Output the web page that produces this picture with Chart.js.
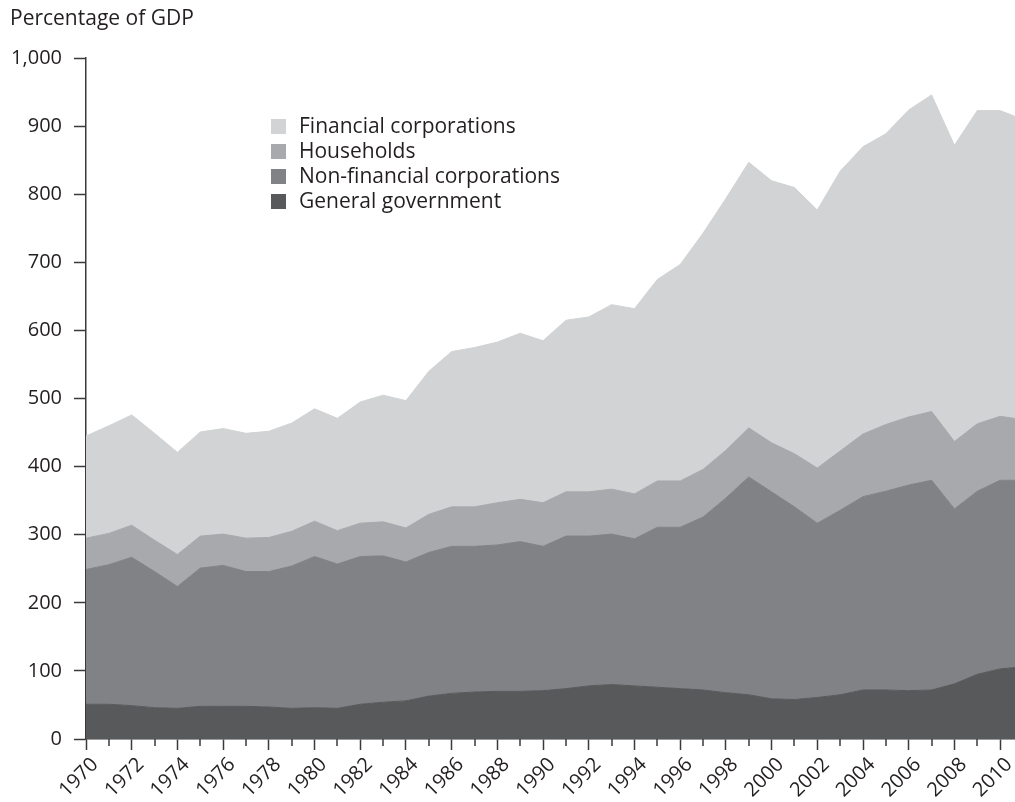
<!DOCTYPE html>
<html>
<head>
<meta charset="utf-8">
<script src="https://cdn.jsdelivr.net/npm/chart.js@4.4.1/dist/chart.umd.min.js"></script>
<style>
    html, body { margin: 0; padding: 0; background: #fff; }
    #wrap { position: relative; width: 1015px; height: 802px; }
    #legend { position: absolute; left: 271px; top: 113px; font-family: "Open Sans", sans-serif; font-size: 21px; color: #231f20; }
    #legend div { height: 25px; line-height: 25px; white-space: nowrap; }
    #legend span { display: inline-block; width: 15px; height: 15px; margin-right: 13px; vertical-align: -1px; }
</style>
</head>
<body>
<div id="wrap">
    <canvas id="debtChart" width="1015" height="802"></canvas>
    <div id="legend"></div>
</div>
<script>
// Dados (percentagem do PIB, por sector)
const years = [1970, 1971, 1972, 1973, 1974, 1975, 1976, 1977, 1978, 1979,
    1980, 1981, 1982, 1983, 1984, 1985, 1986, 1987, 1988, 1989,
    1990, 1991, 1992, 1993, 1994, 1995, 1996, 1997, 1998, 1999,
    2000, 2001, 2002, 2003, 2004, 2005, 2006, 2007, 2008, 2009,
    2010, 2011];
const generalGovernment = [51, 51, 49, 46, 45, 48, 48, 48, 47, 45,
    46, 45, 51, 54, 56, 63, 67, 69, 70, 70,
    71, 74, 78, 80, 78, 76, 74, 72, 68, 65,
    59, 58, 61, 65, 72, 72, 71, 72, 81, 95,
    103, 106];
const nonFinancialCorporations = [198, 205, 218, 200, 179, 203, 207, 198, 199, 209,
    222, 212, 217, 215, 204, 211, 216, 214, 215, 220,
    212, 224, 220, 221, 216, 235, 237, 254, 286, 320,
    304, 283, 256, 271, 284, 292, 302, 308, 257, 269,
    277, 274];
const households = [46, 46, 47, 46, 47, 47, 46, 49, 50, 51,
    52, 49, 49, 50, 50, 56, 58, 58, 62, 62,
    64, 65, 65, 66, 66, 68, 68, 70, 70, 72,
    72, 78, 81, 87, 92, 98, 100, 101, 99, 99,
    94, 89];
const financialCorporations = [150, 158, 162, 157, 150, 153, 155, 154, 156, 159,
    165, 165, 178, 186, 187, 210, 228, 234, 236, 244,
    238, 252, 257, 271, 272, 296, 318, 347, 370, 390,
    385, 391, 379, 411, 422, 427, 451, 465, 435, 460,
    449, 441];
const yTicks = [0, 100, 200, 300, 400, 500, 600, 700, 800, 900, 1000];

const FONT = '"Open Sans", sans-serif';
const AXIS = '#3a3a3c';

function toPoints(values) {
    return values.map((v, i) => ({ x: years[i], y: v }));
}

// Marcas menores (anos ímpares) no eixo x
const minorTicks = {
    id: 'minorTicks',
    afterDraw(chart) {
        const x = chart.scales.x;
        const ctx = chart.ctx;
        ctx.save();
        ctx.strokeStyle = AXIS;
        ctx.lineWidth = 1.5;
        years.filter(y => y % 2 === 1 && y <= x.max).forEach(y => {
            const px = Math.round(x.getPixelForValue(y));
            ctx.beginPath();
            ctx.moveTo(px, chart.chartArea.bottom);
            ctx.lineTo(px, chart.chartArea.bottom + 7);
            ctx.stroke();
        });
        ctx.restore();
    }
};

const series = [
    { label: 'General government', data: generalGovernment, color: '#58595b' },
    { label: 'Non-financial corporations', data: nonFinancialCorporations, color: '#808285' },
    { label: 'Households', data: households, color: '#a7a9ac' },
    { label: 'Financial corporations', data: financialCorporations, color: '#d1d3d4' }
];

const ctx = document.getElementById('debtChart').getContext('2d');
const chart = new Chart(ctx, {
    type: 'line',
    data: {
        datasets: series.map((s, i) => ({
            label: s.label,
            data: toPoints(s.data),
            backgroundColor: s.color,
            borderColor: s.color,
            borderWidth: 1,
            pointRadius: 0,
            tension: 0,
            fill: i === 0 ? 'origin' : '-1'
        }))
    },
    options: {
        responsive: false,
        animation: false,
        layout: { padding: { left: 10, right: 0, top: 0, bottom: 0 } },
        plugins: {
            legend: { display: false },
            tooltip: { enabled: false },
            title: {
                display: true,
                text: 'Percentage of GDP',
                align: 'start',
                color: '#231f20',
                font: { family: FONT, size: 21, weight: 'normal' },
                padding: { top: 6, bottom: 27 }
            }
        },
        scales: {
            x: {
                type: 'linear',
                min: 1970,
                max: 2010.65,
                border: { display: true, color: AXIS, width: 1.5 },
                grid: { drawOnChartArea: false, drawTicks: true, tickLength: 11, tickColor: AXIS, tickWidth: 1.5 },
                ticks: {
                    stepSize: 2,
                    includeBounds: false,
                    minRotation: 45,
                    maxRotation: 45,
                    padding: 3,
                    labelOffset: 9,
                    color: '#231f20',
                    font: { family: FONT, size: 20 },
                    callback: v => String(v)
                },
                afterFit: scale => { scale.height = 63; scale.paddingRight = 0; }
            },
            y: {
                stacked: true,
                min: 0,
                max: 1000,
                border: { display: true, color: AXIS, width: 1.5 },
                grid: { drawOnChartArea: false, drawTicks: true, tickLength: 12, tickColor: AXIS, tickWidth: 1.5 },
                afterBuildTicks: scale => { scale.ticks = yTicks.map(v => ({ value: v })); },
                ticks: {
                    padding: 12,
                    color: '#231f20',
                    font: { family: FONT, size: 20 },
                    callback: v => v.toLocaleString('en-US')
                },
                afterFit: scale => { scale.width = 76; }
            }
        }
    },
    plugins: [minorTicks]
});

// Legenda (ordem de cima para baixo)
const legend = document.getElementById('legend');
chart.data.datasets.slice().reverse().forEach(ds => {
    const row = document.createElement('div');
    row.innerHTML = `<span style="background:${ds.backgroundColor}"></span>${ds.label}`;
    legend.appendChild(row);
});
</script>
</body>
</html>
